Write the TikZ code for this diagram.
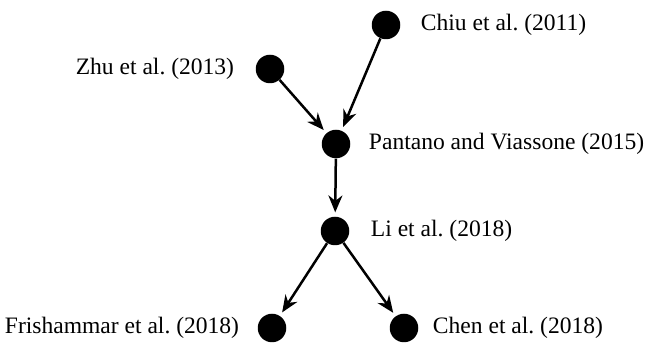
\documentclass[tikz,border=0pt]{standalone}
\usepackage{fontspec}
\setmainfont{Liberation Serif}
\usepackage{xcolor}
\usetikzlibrary{arrows.meta,positioning}
\frenchspacing

\begin{document}
\begin{tikzpicture}[
  font=\fontsize{13.4}{16}\selectfont,
  paper/.style={circle,fill=black,minimum size=0.57cm,inner sep=0pt},
  lbl/.style={inner sep=0pt,anchor=west},
  arr/.style={-{Stealth[length=0.34cm,width=0.28cm]},line width=0.05cm,shorten >=0.08cm}
]
\useasboundingbox (0,0) rectangle (13.26,6.88);
% citation nodes
\node[paper] (chiu) at (7.72,6.38) {};
\node[paper] (zhu)  at (5.40,5.50) {};
\node[paper] (pant) at (6.72,4.00) {};
\node[paper] (li)   at (6.70,2.26) {};
\node[paper] (fri)  at (5.44,0.32) {};
\node[paper] (chen) at (8.08,0.32) {};
% labels
\node[lbl,right=0.40cm of chiu] (chiuL) {Chiu et al. (2011)};
\node[lbl,left=0.42cm of zhu,anchor=east] (zhuL) {Zhu et al. (2013)};
\node[lbl,right=0.36cm of pant] (pantL) {Pantano and Viassone (2015)};
\node[lbl,right=0.42cm of li] (liL) {Li et al. (2018)};
\node[lbl,left=0.36cm of fri,anchor=east] (friL) {Frishammar et al. (2018)};
\node[lbl,right=0.28cm of chen] (chenL) {Chen et al. (2018)};
% citation links
\draw[arr] (chiu)--(pant); \draw[arr] (zhu)--(pant);
\draw[arr] (pant)--(li);
\draw[arr] (li)--(fri); \draw[arr] (li)--(chen);
\end{tikzpicture}
\end{document}
